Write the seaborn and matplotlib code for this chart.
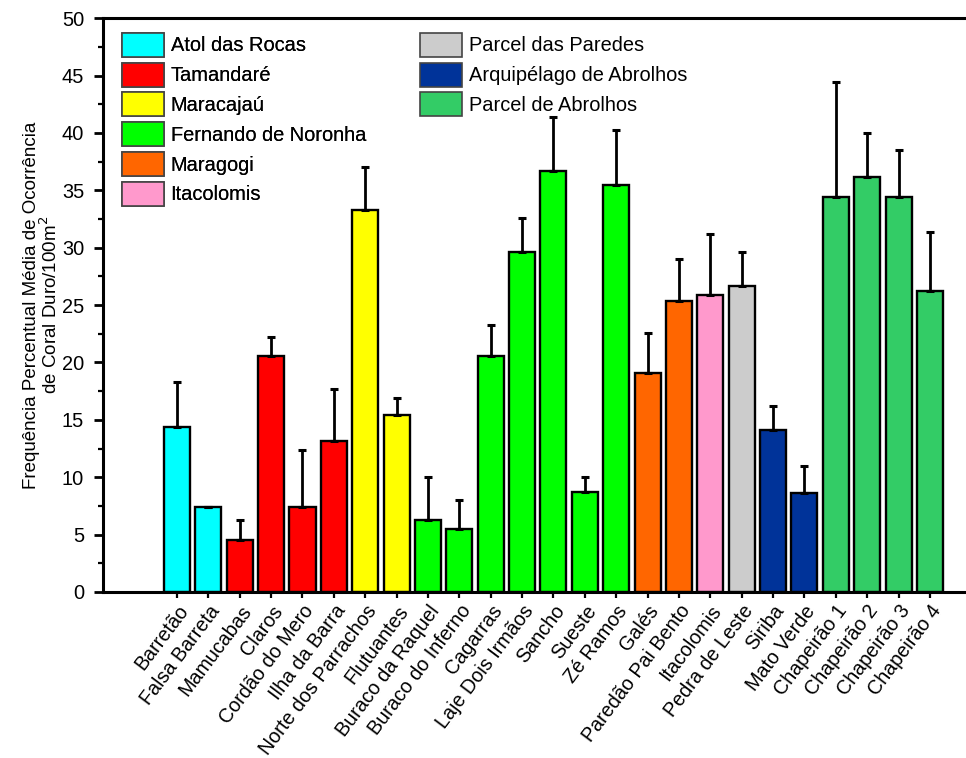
import matplotlib
matplotlib.use("Agg")
import matplotlib.pyplot as plt
from matplotlib.patches import Patch
import seaborn as sns
import pandas as pd
import numpy as np

# Sites, mean hard-coral occurrence and standard deviation
sites = ["Barretão", "Falsa Barreta", "Mamucabas", "Claros", "Cordão do Mero",
         "Ilha da Barra", "Norte dos Parrachos", "Flutuantes", "Buraco da Raquel",
         "Buraco do Inferno", "Cagarras", "Laje Dois Irmãos", "Sancho", "Sueste",
         "Zé Ramos", "Galés", "Paredão Pai Bento", "Itacolomis", "Pedra de Leste",
         "Siriba", "Mato Verde", "Chapeirão 1", "Chapeirão 2", "Chapeirão 3",
         "Chapeirão 4"]
means = [14.4, 7.4, 4.5, 20.6, 7.4, 13.2, 33.3, 15.4, 6.3, 5.5, 20.6, 29.6, 36.7,
         8.7, 35.5, 19.1, 25.4, 25.9, 26.7, 14.1, 8.6, 34.4, 36.2, 34.4, 26.2]
sds = [3.9, 0.0, 1.8, 1.6, 5.0, 4.5, 3.7, 1.5, 3.7, 2.5, 2.7, 3.0, 4.7, 1.3, 4.8,
       3.5, 3.6, 5.3, 2.9, 2.1, 2.4, 10.0, 3.8, 4.1, 5.2]
regions = ["Atol das Rocas"] * 2 + ["Tamandaré"] * 4 + ["Maracajaú"] * 2 + \
          ["Fernando de Noronha"] * 7 + ["Maragogi"] * 2 + ["Itacolomis"] + \
          ["Parcel das Paredes"] + ["Arquipélago de Abrolhos"] * 2 + \
          ["Parcel de Abrolhos"] * 4

region_names = ["Atol das Rocas", "Tamandaré", "Maracajaú", "Fernando de Noronha",
                "Maragogi", "Itacolomis", "Parcel das Paredes",
                "Arquipélago de Abrolhos", "Parcel de Abrolhos"]
region_colors = ["#00FFFF", "#FF0000", "#FFFF00", "#00FF00", "#FF6600",
                 "#FF99CC", "#CCCCCC", "#003399", "#33CC66"]

df = pd.DataFrame({"site": sites, "mean": means, "sd": sds, "region": regions})

sns.set_style("white", {"text.color": "black", "axes.labelcolor": "black",
                        "xtick.color": "black", "ytick.color": "black"})
plt.rcParams["font.family"] = ["Liberation Sans", "DejaVu Sans"]

fig = plt.figure(figsize=(9.66, 7.58), dpi=100)
ax = fig.add_axes([0.1066, 0.219, 0.8934, 0.757])

palette = dict(zip(region_names, region_colors))
sns.barplot(data=df, x="site", y="mean", hue="region", hue_order=region_names,
            palette=palette, dodge=False, width=0.83, edgecolor="black",
            linewidth=1.7, saturation=1, legend=False, ax=ax)

xpos = np.arange(len(sites))
ax.errorbar(xpos, df["mean"], yerr=[np.zeros(len(sites)), df["sd"]], fmt="none",
            ecolor="black", elinewidth=2, capsize=3, capthick=2.2, zorder=1)

ax.set_xlim(-2.36, 25.15)
ax.set_ylim(0, 50)
ax.set_yticks(np.arange(0, 51, 5))
ax.set_yticks(np.arange(0, 50, 2.5), minor=True)
ax.tick_params(axis="y", which="major", direction="out", length=6.5, width=2,
               labelsize=14.4, left=True, pad=7)
ax.tick_params(axis="y", which="minor", direction="out", length=3.5, width=1.6, left=True)
ax.tick_params(axis="x", direction="out", length=4, width=1.6, bottom=True,
               labelsize=14.2, pad=3)
ax.set_xticks(xpos)
ax.set_xticklabels(sites, rotation=53, ha="right", rotation_mode="anchor")
ax.set_xlabel("")
ax.set_ylabel("Frequência Percentual Média de Ocorrência\nde Coral Duro/100m$^{2}$",
              fontsize=13.5, labelpad=0.5, linespacing=1.0)

for side in ["left", "bottom", "top"]:
    ax.spines[side].set_linewidth(2.2)
    ax.spines[side].set_color("black")
ax.spines["right"].set_visible(False)

handles = [Patch(facecolor=c, edgecolor="#444444", linewidth=1.2) for c in region_colors]
legend_kw = dict(loc="upper left", frameon=False, fontsize=14.4,
                 handlelength=2.08, handleheight=1.47, labelspacing=0.29,
                 handletextpad=0.35, borderpad=0, borderaxespad=0)
leg1 = fig.legend(handles[:6], region_names[:6], bbox_to_anchor=(0.1263, 0.9567),
                  **legend_kw)
fig.add_artist(leg1)
fig.legend(handles[6:], region_names[6:], bbox_to_anchor=(0.4348, 0.9567), **legend_kw)

fig.savefig("out.png", dpi=100)
